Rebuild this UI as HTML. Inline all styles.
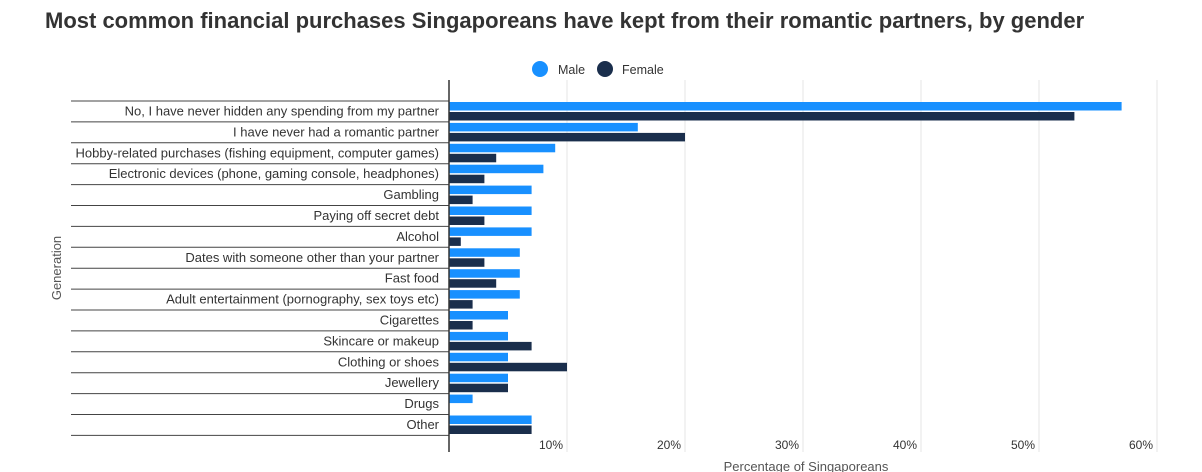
<!DOCTYPE html>
<html><head><meta charset="utf-8"><style>
body{margin:0;background:#fff;width:1202px;height:472px;overflow:hidden;font-family:"Liberation Sans",sans-serif;}
#title{position:absolute;left:45px;top:8px;font-size:22px;font-weight:bold;color:#333;white-space:nowrap;}
svg{position:absolute;left:0;top:0;}
</style></head><body>
<div id="title">Most common financial purchases Singaporeans have kept from their romantic partners, by gender</div>
<svg id="chart" width="1202" height="472"></svg>
<script>
const categories=["No, I have never hidden any spending from my partner","I have never had a romantic partner","Hobby-related purchases (fishing equipment, computer games)","Electronic devices (phone, gaming console, headphones)","Gambling","Paying off secret debt","Alcohol","Dates with someone other than your partner","Fast food","Adult entertainment (pornography, sex toys etc)","Cigarettes","Skincare or makeup","Clothing or shoes","Jewellery","Drugs","Other"];
const maleValues=[57,16,9,8,7,7,7,6,6,6,5,5,5,5,2,7];
const femaleValues=[53,20,4,3,2,3,1,3,4,2,2,7,10,5,0,7];
const tickValues=[10,20,30,40,50,60];
const tickLabels=["10%","20%","30%","40%","50%","60%"];
const NS="http://www.w3.org/2000/svg";
const svg=document.getElementById('chart');
const x0=449,pxPer=11.8,rowTop=101,rowH=20.9;
const xs=v=>x0+v*pxPer;
function mk(t,a){const e=document.createElementNS(NS,t);for(const k in a)e.setAttribute(k,a[k]);svg.appendChild(e);return e;}
tickValues.forEach((v,i)=>{
 const g=mk('line',{x1:xs(v),x2:xs(v),y1:80,y2:452,stroke:'#e6e6e6','stroke-width':1});
 
 
 const t=mk('text',{x:xs(v)-4,y:449,'text-anchor':'end','font-size':12,fill:'#333'});
 t.textContent=tickLabels[i];
 
 
});
categories.forEach((c,i)=>{
 const y=rowTop+i*rowH;
 const l=mk('line',{x1:71,x2:x0,y1:y,y2:y,stroke:'#444','stroke-width':1});
 
 
 const t=mk('text',{x:439,y:y+14.5,'text-anchor':'end','font-size':13,fill:'#333'});
 t.textContent=c;
 
 
 const m=mk('rect',{x:x0,y:y+1,width:Math.max(0,xs(maleValues[i])-x0),height:8.5,fill:'#1890ff'});
 
 
 const f=mk('rect',{x:x0,y:y+11,width:Math.max(0,xs(femaleValues[i])-x0),height:8.5,fill:'#1a2e4c'});
 
 
});
const ly=rowTop+categories.length*rowH;
const bl=mk('line',{x1:71,x2:x0,y1:ly,y2:ly,stroke:'#444','stroke-width':1});


const ax=mk('line',{x1:x0,x2:x0,y1:80,y2:452,stroke:'#333','stroke-width':1.5});


const xt=mk('text',{x:806,y:471,'text-anchor':'middle','font-size':13,fill:'#555'});
xt.textContent='Percentage of Singaporeans';


const yt=mk('text',{x:0,y:0,'text-anchor':'middle','font-size':13,fill:'#555',transform:'translate(61,268) rotate(-90)'});
yt.textContent='Generation';


const lm=mk('circle',{cx:540,cy:69,r:8,fill:'#1890ff'});


const lmt=mk('text',{x:558,y:74,'font-size':12.5,fill:'#333'});
lmt.textContent='Male';


const lf=mk('circle',{cx:605,cy:69,r:8,fill:'#1a2e4c'});


const lft=mk('text',{x:622,y:74,'font-size':12.5,fill:'#333'});
lft.textContent='Female';


</script>
</body></html>
